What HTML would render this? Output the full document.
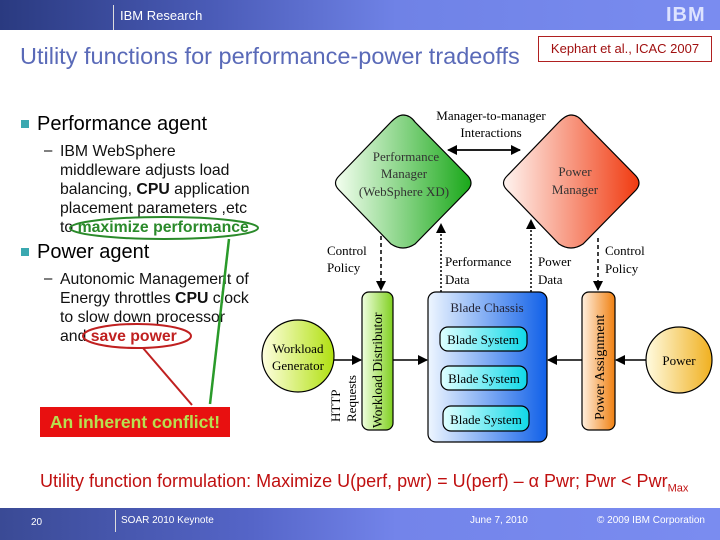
<!DOCTYPE html>
<html><head><meta charset="utf-8"><style>
body{margin:0;width:720px;height:540px;position:relative;background:#fff;font-family:"Liberation Sans",sans-serif;overflow:hidden}
.a{position:absolute;white-space:nowrap}
.hdr{left:0;top:0;width:720px;height:30px;background:linear-gradient(90deg,#2a3a80 0%,#4b5cb8 30%,#6f82e6 55%,#7a8cf0 100%)}
.ftr{left:0;top:508px;width:720px;height:32px;background:linear-gradient(90deg,#3a4a95 0%,#5565c8 35%,#7384ea 55%,#7a8cf0 100%)}
.sub{font-size:15.8px;color:#111;line-height:19px}
</style></head><body>
<div class="a hdr"></div>
<div class="a" style="left:113px;top:5px;width:1px;height:25px;background:#ddd"></div>
<div class="a" style="left:120px;top:8px;font-size:13px;color:#fff">IBM Research</div>
<div class="a" style="left:666px;top:4px;font-size:20px;font-weight:bold;color:#dde3ff;letter-spacing:1px">IBM</div>
<div class="a" style="left:20px;top:43px;font-size:23.5px;color:#5a6ab8">Utility functions for performance-power tradeoffs</div>
<div class="a" style="left:538px;top:36px;width:172px;height:24px;border:1px solid #b02020;font-size:13px;color:#a01010;line-height:24px;text-align:center">Kephart et al., ICAC 2007</div>

<div class="a" style="left:21px;top:120px;width:8px;height:8px;background:#3aa8b0"></div>
<div class="a" style="left:37px;top:113px;font-size:20px">Performance agent</div>
<div class="a" style="left:44px;top:142px;font-size:15px">–</div>
<div class="a sub" style="left:60px;top:142px">IBM WebSphere<br>middleware adjusts load<br>balancing, <b>CPU</b> application<br>placement parameters ,etc<br>to <b style="color:#2a8a2a">maximize performance</b></div>
<div class="a" style="left:21px;top:248px;width:8px;height:8px;background:#3aa8b0"></div>
<div class="a" style="left:37px;top:241px;font-size:20px">Power agent</div>
<div class="a" style="left:44px;top:270px;font-size:15px">–</div>
<div class="a sub" style="left:60px;top:270px">Autonomic Management of<br>Energy throttles <b>CPU</b> clock<br>to slow down processor<br>and <b style="color:#c02020">save power</b></div>

<div class="a" style="left:40px;top:407px;width:190px;height:30px;background:#e81010;color:#b8e050;font-weight:bold;font-size:17.5px;line-height:30px;text-align:center">An inherent conflict!</div>

<svg class="a" style="left:0;top:0" width="720" height="540">
<defs>
<linearGradient id="g1" x1="0" x2="1"><stop offset="0" stop-color="#f4fff0"/><stop offset="1" stop-color="#1aa81a"/></linearGradient>
<linearGradient id="g2" x1="0" x2="1"><stop offset="0" stop-color="#fff4f0"/><stop offset="1" stop-color="#f03a10"/></linearGradient>
<linearGradient id="g3" x1="0" x2="1"><stop offset="0" stop-color="#eef6ff"/><stop offset="1" stop-color="#1060e8"/></linearGradient>
<linearGradient id="g4" x1="0" x2="1"><stop offset="0" stop-color="#f0ffe0"/><stop offset="1" stop-color="#80d020"/></linearGradient>
<linearGradient id="g5" x1="0" x2="1"><stop offset="0" stop-color="#fff0e0"/><stop offset="1" stop-color="#f08010"/></linearGradient>
<linearGradient id="g6" x1="0" x2="1"><stop offset="0" stop-color="#fffbe0"/><stop offset="1" stop-color="#f0b020"/></linearGradient>
<linearGradient id="g7" x1="0" x2="1"><stop offset="0" stop-color="#ffffe0"/><stop offset="1" stop-color="#b0e010"/></linearGradient>
<linearGradient id="g8" x1="0" x2="1"><stop offset="0" stop-color="#e0ffff"/><stop offset="1" stop-color="#10d8e8"/></linearGradient>
<marker id="ar" markerWidth="10" markerHeight="10" refX="9" refY="5" orient="auto" markerUnits="userSpaceOnUse"><path d="M0,0L10,5L0,10z" fill="#000"/></marker>
</defs>
<g stroke="#000" stroke-width="1.2">
<path d="M403,115 Q410,115 415,122 L468,176 Q474,183 468,190 L415,244 Q403,252 391,244 L339,190 Q332,183 339,176 L391,122 Q398,115 403,115z" fill="url(#g1)"/>
<path d="M571,115 Q578,115 583,122 L636,176 Q642,183 636,190 L583,244 Q571,252 559,244 L507,190 Q500,183 507,176 L559,122 Q566,115 571,115z" fill="url(#g2)"/>
<rect x="428" y="292" width="119" height="150" rx="8" fill="url(#g3)"/>
<rect x="362" y="292" width="31" height="138" rx="7" fill="url(#g4)"/>
<rect x="582" y="292" width="33" height="138" rx="7" fill="url(#g5)"/>
<rect x="440" y="327" width="87" height="24" rx="8" fill="url(#g8)"/>
<rect x="441" y="366" width="86" height="24" rx="8" fill="url(#g8)"/>
<rect x="443" y="406" width="86" height="25" rx="8" fill="url(#g8)"/>
<circle cx="679" cy="360" r="33" fill="url(#g6)"/>
<circle cx="298" cy="356" r="36" fill="url(#g7)"/>
</g>
<g stroke="#000" stroke-width="1.5" fill="none">
<line x1="455" y1="150" x2="520" y2="150" marker-end="url(#ar)"/>
<line x1="520" y1="150" x2="448" y2="150" marker-end="url(#ar)"/>
<line x1="381" y1="236" x2="381" y2="290" stroke-dasharray="4,3" marker-end="url(#ar)"/>
<line x1="598" y1="238" x2="598" y2="290" stroke-dasharray="4,3" marker-end="url(#ar)"/>
<line x1="441" y1="292" x2="441" y2="224" stroke-dasharray="2,2" marker-end="url(#ar)"/>
<line x1="531" y1="292" x2="531" y2="220" stroke-dasharray="2,2" marker-end="url(#ar)"/>
<line x1="334" y1="360" x2="361" y2="360" marker-end="url(#ar)"/>
<line x1="393" y1="360" x2="427" y2="360" marker-end="url(#ar)"/>
<line x1="582" y1="360" x2="548" y2="360" marker-end="url(#ar)"/>
<line x1="646" y1="360" x2="616" y2="360" marker-end="url(#ar)"/>
</g>
<g font-family="Liberation Serif,serif" font-size="13" fill="#000">
<text x="491" y="120" text-anchor="middle">Manager-to-manager</text>
<text x="491" y="137" text-anchor="middle">Interactions</text>
<text x="406" y="161" text-anchor="middle" fill="#333">Performance</text>
<text x="404" y="178" text-anchor="middle" fill="#333">Manager</text>
<text x="404" y="196" text-anchor="middle" fill="#333">(WebSphere XD)</text>
<text x="575" y="176" text-anchor="middle" fill="#333">Power</text>
<text x="575" y="194" text-anchor="middle" fill="#333">Manager</text>
<text x="327" y="255">Control</text><text x="327" y="272">Policy</text>
<text x="445" y="266">Performance</text><text x="445" y="284">Data</text>
<text x="538" y="266">Power</text><text x="538" y="284">Data</text>
<text x="605" y="255">Control</text><text x="605" y="273">Policy</text>
<text x="487" y="312" text-anchor="middle" fill="#223">Blade Chassis</text>
<text x="483" y="344" text-anchor="middle">Blade System</text>
<text x="484" y="383" text-anchor="middle">Blade System</text>
<text x="486" y="424" text-anchor="middle">Blade System</text>
<text x="679" y="365" text-anchor="middle">Power</text>
<text x="298" y="353" text-anchor="middle">Workload</text>
<text x="298" y="370" text-anchor="middle">Generator</text>
<text transform="translate(382,428) rotate(-90)" font-size="13.5">Workload Distributor</text>
<text transform="translate(604,420) rotate(-90)" font-size="14">Power Assignment</text>
<text transform="translate(340,422) rotate(-90)">HTTP</text>
<text transform="translate(356,422) rotate(-90)">Requests</text>
</g>
<ellipse cx="164" cy="228" rx="94" ry="11" fill="none" stroke="#2a8a2a" stroke-width="2"/>
<line x1="229" y1="239" x2="210" y2="404" stroke="#2a9a2a" stroke-width="2.5"/>
<ellipse cx="137" cy="336" rx="54" ry="12" fill="none" stroke="#c02020" stroke-width="2"/>
<line x1="143" y1="348" x2="192" y2="405" stroke="#c02020" stroke-width="2"/>
</svg>

<div class="a" style="left:40px;top:471px;font-size:18px;color:#c01010">Utility function formulation: Maximize U(perf, pwr) = U(perf) – α Pwr; Pwr &lt; Pwr<sub style="font-size:11px">Max</sub></div>
<div class="a ftr"></div>
<div class="a" style="left:115px;top:510px;width:1px;height:22px;background:#ddd"></div>
<div class="a" style="left:31px;top:517px;font-size:10px;color:#fff">20</div>
<div class="a" style="left:121px;top:515px;font-size:10px;color:#fff">SOAR 2010 Keynote</div>
<div class="a" style="left:470px;top:515px;font-size:10px;color:#fff">June 7, 2010</div>
<div class="a" style="left:597px;top:515px;font-size:10px;color:#fff">© 2009 IBM Corporation</div>
</body></html>
